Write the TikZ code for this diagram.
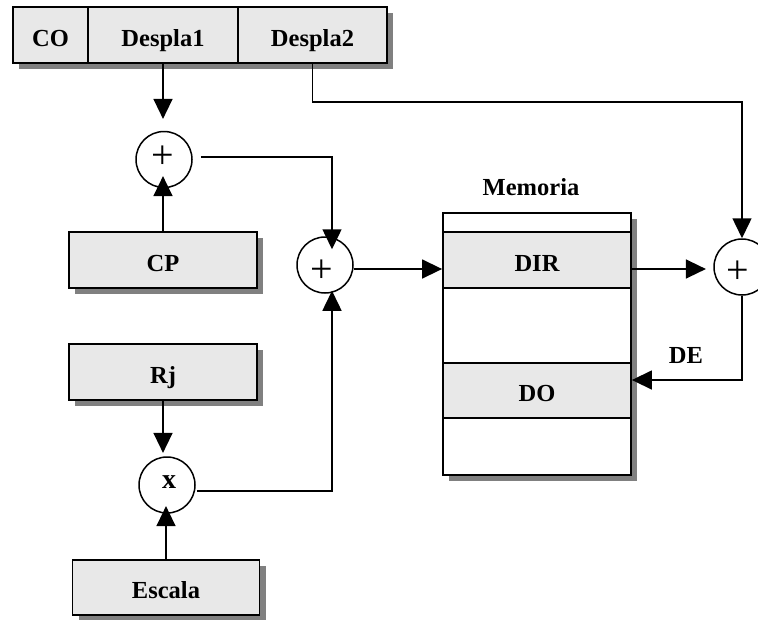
\documentclass[tikz,border=0pt]{standalone}
\usepackage{fontspec}
\setmainfont{Liberation Serif}
\usetikzlibrary{arrows.meta,shadows}
\definecolor{boxfill}{HTML}{E8E8E8}
\definecolor{shadowc}{HTML}{808080}
\tikzset{
  lbl/.style={font=\fontsize{24.5}{27}\selectfont\bfseries},
  shad/.style={drop shadow={shadow xshift=6pt,shadow yshift=-6pt,opacity=1,fill=shadowc}},
  regbox/.style={rectangle,draw,line width=1.8pt,fill=boxfill,inner sep=0pt,
    text height=22pt,text depth=0pt,lbl},
  sumcirc/.style={circle,draw,line width=1.5pt,minimum size=56pt,inner sep=0pt,fill=white},
  plustxt/.style={font=\fontsize{40}{40}\selectfont,inner sep=0pt},
  arr/.style={line width=1.5pt,-{Triangle[length=20pt,width=19pt]}},
  wire/.style={line width=1.5pt}
}
\begin{document}
\begin{tikzpicture}[x=1pt,y=-1pt]
\useasboundingbox (0,0) rectangle (758,619);
\clip (0,0) rectangle (758,619);
% instruction fields
\node[regbox,shad,minimum width=75pt,minimum height=56pt] (co) at (50.5,35) {CO};
\node[regbox,shad,minimum width=150pt,minimum height=56pt] (desp1) at (163,35) {Despla1};
\node[regbox,shad,minimum width=149pt,minimum height=56pt] (desp2) at (312.5,35) {Despla2};
% registers
\node[regbox,shad,minimum width=188pt,minimum height=56pt] (cp) at (163,260) {CP};
\node[regbox,shad,minimum width=188pt,minimum height=56pt] (rj) at (163,372) {Rj};
\node[regbox,shad,minimum width=187pt,minimum height=55pt] (esc) at (166,587.5) {Escala};
% memory
\node[rectangle,draw,line width=1.8pt,fill=white,shad,minimum width=188pt,minimum height=262pt,inner sep=0pt] (mem) at (537,344) {};
\node[regbox,minimum width=188pt,minimum height=56pt] (dir) at (537,260) {DIR};
\node[regbox,minimum width=188pt,minimum height=55pt] (do) at (537,390.5) {DO};
\node[lbl,anchor=base,inner sep=0pt] (memlbl) at (531,195) {Memoria};
\node[lbl,anchor=base,inner sep=0pt] (delbl) at (686,363) {DE};
% adders / multiplier
\node[sumcirc] (c1) at (164,159.5) {};
\node[plustxt] (p1) at (163,157) {+};
\node[sumcirc] (c2) at (325,265) {};
\node[plustxt] (p2) at (322,271) {+};
\node[sumcirc] (cx) at (167,485) {};
\node[font=\fontsize{28}{28}\selectfont\bfseries,inner sep=0pt] (xt) at (169,482) {x};
\node[sumcirc] (c3) at (742,267) {};
\node[plustxt] (p3) at (738,272) {+};
% connectors
\draw[arr] (desp1.south) -- ++(0,55);
\draw[arr] (cp.north) -- ++(0,-55);
\draw[arr] ([xshift=8pt,yshift=2.5pt]c1.east) -| ([xshift=7pt,yshift=-13pt]c2.north);
\draw[arr] ([xshift=1pt,yshift=-6pt]cx.east) -| ([xshift=7pt,yshift=3pt]c2.south);
\draw[arr] (rj.south) -- ++(0,52);
\draw[arr] (esc.north) -- ++(0,-53);
\draw[arr] ([yshift=-4pt]c2.east) -- ([yshift=-9pt]dir.west);
\draw[arr] ([yshift=-9pt]dir.east) -- ++(74,0);
\draw[arr] (desp2.south) -- ++(0,38) -| (c3.north);
\draw[arr] (c3.south) |- ([yshift=10.5pt]do.east);
\end{tikzpicture}
\end{document}
